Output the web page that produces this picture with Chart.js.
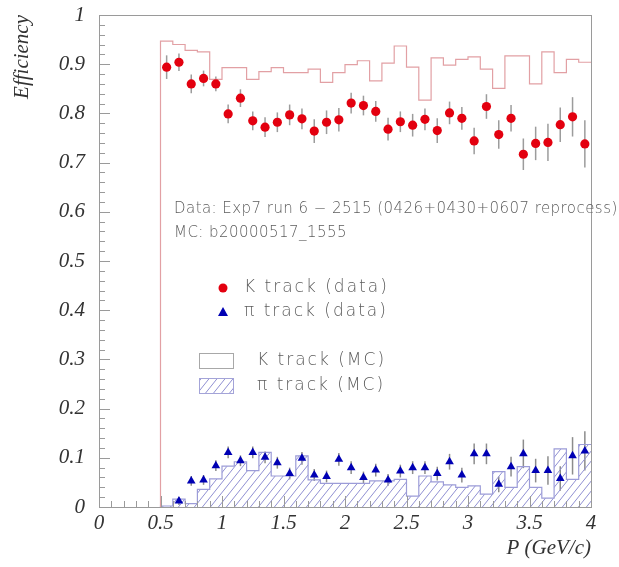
<!DOCTYPE html>
<html>
<head>
<meta charset="utf-8">
<script src="https://cdn.jsdelivr.net/npm/chart.js@4/dist/chart.umd.min.js"></script>
<style>
  html, body { margin: 0; padding: 0; background: #fff; }
  #wrap { width: 619px; height: 567px; position: relative; }
</style>
</head>
<body>
<div id="wrap"><canvas id="c" width="619" height="567"></canvas></div>
<script>
// Momentum bin centres (GeV/c), bin width 0.1
const pCenters = [0.55, 0.65, 0.75, 0.85, 0.95, 1.05, 1.15, 1.25, 1.35, 1.45,
                  1.55, 1.65, 1.75, 1.85, 1.95, 2.05, 2.15, 2.25, 2.35, 2.45,
                  2.55, 2.65, 2.75, 2.85, 2.95, 3.05, 3.15, 3.25, 3.35, 3.45,
                  3.55, 3.65, 3.75, 3.85, 3.95];
const binWidth = 0.1;

// K track efficiency, data
const kData = [0.894, 0.904, 0.860, 0.871, 0.860, 0.799, 0.831, 0.785, 0.772, 0.782,
               0.797, 0.789, 0.764, 0.782, 0.787, 0.821, 0.816, 0.804, 0.768, 0.783,
               0.776, 0.788, 0.765, 0.801, 0.790, 0.744, 0.814, 0.757, 0.790, 0.717,
               0.739, 0.741, 0.777, 0.793, 0.738];
const kErr  = [0.024, 0.018, 0.019, 0.016, 0.015, 0.019, 0.018, 0.019, 0.020, 0.020,
               0.021, 0.021, 0.024, 0.024, 0.024, 0.021, 0.020, 0.021, 0.023, 0.021,
               0.023, 0.022, 0.025, 0.023, 0.023, 0.027, 0.025, 0.029, 0.027, 0.032,
               0.034, 0.038, 0.035, 0.040, 0.048];

// pi track efficiency, data
const piData = [null, 0.012, 0.053, 0.055, 0.084, 0.111, 0.094, 0.111, 0.101, 0.090,
                0.068, 0.099, 0.065, 0.062, 0.097, 0.080, 0.060, 0.075, 0.055, 0.073,
                0.080, 0.080, 0.068, 0.092, 0.065, 0.108, 0.108, 0.046, 0.082, 0.108,
                0.074, 0.074, 0.058, 0.104, 0.114];
const piErr  = [null, 0.008, 0.010, 0.010, 0.011, 0.012, 0.011, 0.012, 0.012, 0.012,
                0.012, 0.013, 0.012, 0.012, 0.013, 0.013, 0.012, 0.013, 0.012, 0.013,
                0.013, 0.013, 0.014, 0.016, 0.015, 0.021, 0.021, 0.016, 0.020, 0.029,
                0.024, 0.029, 0.025, 0.038, 0.040];

// Monte Carlo histograms, one value per bin
const kMC  = [0.947, 0.940, 0.928, 0.925, 0.869, 0.893, 0.893, 0.869, 0.885, 0.893,
              0.883, 0.883, 0.890, 0.863, 0.883, 0.899, 0.907, 0.866, 0.902, 0.937,
              0.894, 0.827, 0.913, 0.898, 0.910, 0.915, 0.890, 0.851, 0.917, 0.917,
              0.860, 0.925, 0.883, 0.910, 0.904];
const piMC = [0.002, 0.016, 0.007, 0.036, 0.057, 0.083, 0.092, 0.074, 0.111, 0.063,
              0.063, 0.104, 0.055, 0.048, 0.048, 0.048, 0.048, 0.053, 0.053, 0.056,
              0.022, 0.063, 0.051, 0.045, 0.040, 0.043, 0.026, 0.072, 0.040, 0.082,
              0.040, 0.018, 0.118, 0.056, 0.127];

const xTickLabels = ['0', '0.5', '1', '1.5', '2', '2.5', '3', '3.5', '4'];
const yTickLabels = ['0', '0.1', '0.2', '0.3', '0.4', '0.5', '0.6', '0.7', '0.8', '0.9', '1'];

// Step outline for a histogram: left edge of every bin, closing at the last right edge
function histPoints(values) {
  const pts = [{ x: pCenters[0] - binWidth / 2, y: 0 }];
  values.forEach((v, i) => pts.push({ x: pCenters[i] - binWidth / 2, y: v }));
  const last = pCenters.length - 1;
  pts.push({ x: pCenters[last] + binWidth / 2, y: values[last] });
  return pts;
}
function markerPoints(values) {
  return pCenters.map((x, i) => ({ x: x, y: values[i] }));
}

// Diagonal hatch fill
function makeHatch(color) {
  const w = 8, h = 10;
  const cv = document.createElement('canvas');
  cv.width = w; cv.height = h;
  const g = cv.getContext('2d');
  g.strokeStyle = color;
  g.lineWidth = 1;
  for (const x0 of [-w, 0, w]) {
    g.beginPath();
    g.moveTo(x0, h);
    g.lineTo(x0 + w, 0);
    g.stroke();
  }
  return g.createPattern(cv, 'repeat');
}

const ctx0 = document.getElementById('c').getContext('2d');
const hatch = makeHatch('#8f8fd2');

const textGrey = '#5c5c5c';
const frameGrey = '#9a9a9a';
const serifItalic = { family: '"Liberation Serif", "Times New Roman", serif', style: 'italic', size: 21 };

// Vertical error bars drawn under the markers
const errorBars = {
  id: 'errorBars',
  beforeDatasetsDraw(chart) {
    const { ctx, scales: { x, y } } = chart;
    ctx.save();
    ctx.lineWidth = 1.5;
    const series = [[kData, kErr, '#9c9c9c'], [piData, piErr, '#8c8c8c']];
    for (const [vals, errs, col] of series) {
      ctx.strokeStyle = col;
      vals.forEach((v, i) => {
        if (v === null || errs[i] === null) return;
        const px = x.getPixelForValue(pCenters[i]);
        ctx.beginPath();
        ctx.moveTo(px, y.getPixelForValue(v - errs[i]));
        ctx.lineTo(px, y.getPixelForValue(v + errs[i]));
        ctx.stroke();
      });
    }
    ctx.restore();
  }
};

// Frame box with inward major/minor ticks on the left and bottom axes
const frameTicks = {
  id: 'frameTicks',
  afterDatasetsDraw(chart) {
    const { ctx, chartArea: a, scales: { x, y } } = chart;
    ctx.save();
    ctx.strokeStyle = frameGrey;
    ctx.lineWidth = 1;
    ctx.strokeRect(Math.round(a.left) + 0.5, Math.round(a.top) + 0.5,
                   Math.round(a.right - a.left), Math.round(a.bottom - a.top));
    ctx.beginPath();
    for (let k = 0; k <= 50; k++) {
      const py = Math.round(y.getPixelForValue(k * 0.02)) + 0.5;
      const len = k % 5 === 0 ? 11 : 6;
      ctx.moveTo(a.left, py);
      ctx.lineTo(a.left + len, py);
    }
    for (let k = 0; k <= 40; k++) {
      const px = Math.round(x.getPixelForValue(k * 0.1)) + 0.5;
      const len = k % 5 === 0 ? 11 : 6;
      ctx.moveTo(px, a.bottom);
      ctx.lineTo(px, a.bottom - len);
    }
    ctx.stroke();
    ctx.restore();
  }
};

// Run description and legend inside the frame
const annotations = {
  id: 'annotations',
  afterDraw(chart) {
    const { ctx, chartArea: a } = chart;
    const L = a.left, T = a.top;
    const spacing = (px) => { if ('letterSpacing' in ctx) ctx.letterSpacing = px; };
    ctx.save();
    ctx.fillStyle = textGrey;
    ctx.textBaseline = 'middle';
    ctx.textAlign = 'left';
    ctx.font = '200 15px "DejaVu Sans", sans-serif';
    spacing('0.45px');
    ctx.fillText('Data: Exp7 run 6 \u2212 2515 (0426+0430+0607 reprocess)', L + 75, T + 194);
    ctx.fillText('MC: b20000517_1555', L + 75, T + 218);

    ctx.font = '200 17px "DejaVu Sans", sans-serif';
    spacing('2px');
    ctx.fillText('K track (data)', L + 145, T + 273);
    ctx.fillText('\u03c0 track (data)', L + 145, T + 297);
    ctx.fillText('K track (MC)', L + 158, T + 346);
    ctx.fillText('\u03c0 track (MC)', L + 158, T + 371);

    // marker keys
    ctx.fillStyle = '#e3000f';
    ctx.beginPath();
    ctx.arc(L + 124, T + 273, 4.5, 0, Math.PI * 2);
    ctx.fill();
    ctx.fillStyle = '#0000b4';
    ctx.beginPath();
    ctx.moveTo(L + 124, T + 292);
    ctx.lineTo(L + 129, T + 301);
    ctx.lineTo(L + 119, T + 301);
    ctx.closePath();
    ctx.fill();

    // histogram keys
    ctx.lineWidth = 1;
    ctx.strokeStyle = '#a8a8a8';
    ctx.strokeRect(L + 100.5, T + 338.5, 34, 15);
    ctx.fillStyle = hatch;
    ctx.fillRect(L + 101, T + 364, 33, 14);
    ctx.strokeStyle = '#a4a4d8';
    ctx.strokeRect(L + 100.5, T + 363.5, 34, 15);
    ctx.restore();
  }
};

new Chart(ctx0, {
  type: 'scatter',
  data: {
    datasets: [
      {
        label: 'K track (data)',
        data: markerPoints(kData),
        pointStyle: 'circle',
        pointRadius: 4.6,
        pointBackgroundColor: '#e3000f',
        pointBorderWidth: 0,
        order: 1
      },
      {
        label: '\u03c0 track (data)',
        data: markerPoints(piData),
        pointStyle: 'triangle',
        pointRadius: 5,
        pointBackgroundColor: '#0000b4',
        pointBorderWidth: 0,
        order: 2
      },
      {
        label: 'K track (MC)',
        type: 'line',
        data: histPoints(kMC),
        stepped: 'before',
        borderColor: '#e2a0a4',
        borderWidth: 1.2,
        pointRadius: 0,
        fill: false,
        order: 3
      },
      {
        label: '\u03c0 track (MC)',
        type: 'line',
        data: histPoints(piMC),
        stepped: 'before',
        borderColor: '#9c9cd8',
        borderWidth: 1.2,
        backgroundColor: hatch,
        pointRadius: 0,
        fill: 'origin',
        order: 4
      }
    ]
  },
  options: {
    responsive: false,
    animation: false,
    devicePixelRatio: 1,
    layout: { padding: { top: 15, right: 28, left: 0, bottom: 0 } },
    plugins: {
      legend: { display: false },
      tooltip: { enabled: false }
    },
    scales: {
      x: {
        type: 'linear',
        min: 0,
        max: 4,
        afterFit(s) { s.height = 60; s.paddingLeft = 0; s.paddingRight = 0; },
        afterBuildTicks(s) { s.ticks = xTickLabels.map((t, i) => ({ value: i * 0.5 })); },
        ticks: {
          autoSkip: false,
          maxRotation: 0,
          padding: 4,
          color: '#333',
          font: serifItalic,
          callback: (v, i) => xTickLabels[i]
        },
        grid: { display: false, drawTicks: false },
        border: { display: false },
        title: {
          display: true,
          text: 'P (GeV/c)',
          align: 'end',
          color: '#333',
          font: serifItalic,
          padding: { top: 0, bottom: 6 }
        }
      },
      y: {
        type: 'linear',
        min: 0,
        max: 1,
        afterFit(s) { s.width = 99; s.paddingTop = 0; s.paddingBottom = 0; },
        afterBuildTicks(s) { s.ticks = yTickLabels.map((t, i) => ({ value: i * 0.1 })); },
        ticks: {
          autoSkip: false,
          padding: 14,
          color: '#333',
          font: serifItalic,
          callback: (v, i) => yTickLabels[i]
        },
        grid: { display: false, drawTicks: false },
        border: { display: false },
        title: {
          display: true,
          text: 'Efficiency',
          align: 'end',
          color: '#333',
          font: serifItalic,
          padding: { top: 10, bottom: 0 }
        }
      }
    }
  },
  plugins: [errorBars, frameTicks, annotations]
});
</script>
</body>
</html>
